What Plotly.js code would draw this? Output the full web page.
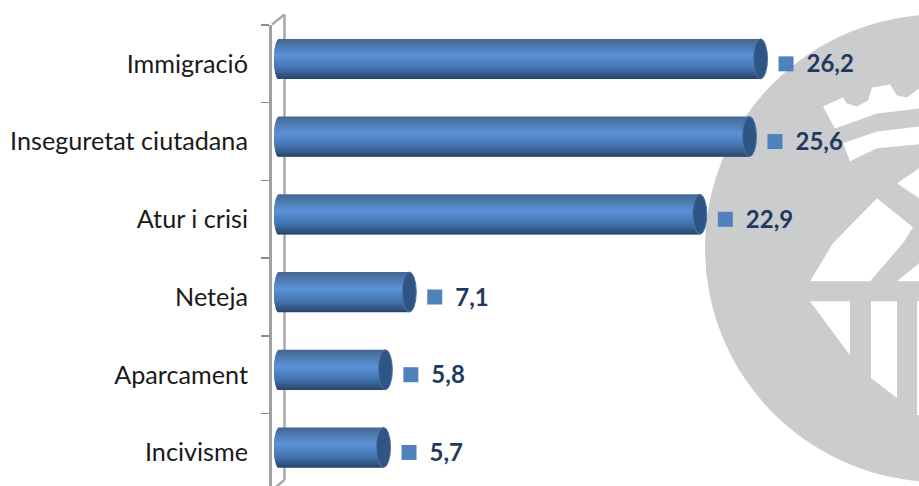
<!DOCTYPE html>
<html><head><meta charset="utf-8">
<script src="https://cdn.plot.ly/plotly-3.0.1.min.js"></script>
<style>html,body{margin:0;padding:0;background:#fff}#c{width:919px;height:486px}</style>
</head><body><div id="c"></div>
<script>
const categories = ["Immigració","Inseguretat ciutadana","Atur i crisi","Neteja","Aparcament","Incivisme"];
const values = [26.2,25.6,22.9,7.1,5.8,5.7];
const valueLabels = ["26,2","25,6","22,9","7,1","5,8","5,7"];

const W=919,H=486,L=272,T=24.5;
const pxPerUnit=18.39, zeroPx=278.7, pxPerCat=77.8;
const xRange=[(L-zeroPx)/pxPerUnit,(W-zeroPx)/pxPerUnit];
const yRange=[-0.5+(H-T)/pxPerCat,-0.5];
const barPx=40, bands=40, leftPx=274, rx=7, leftRx=5, lift=5;
const stops=[[0,[70,103,143]],[0.08,[72,112,160]],[0.42,[91,146,214]],[0.72,[68,118,178]],[0.9,[52,88,134]],[1,[40,68,106]]];
function col(t){for(let i=1;i<stops.length;i++){if(t<=stops[i][0]){const a=stops[i-1],b=stops[i],f=(t-a[0])/(b[0]-a[0]);
  return 'rgb('+a[1].map((v,k)=>Math.round(v+(b[1][k]-v)*f)).join(',')+')';}}return 'rgb(40,68,106)';}

const traces=[];
const bandH=barPx/bands/pxPerCat;
for(let b=0;b<bands;b++){
  const t=(b+0.5)/bands, u=2*t-1;
  const sag=leftRx*(1-Math.sqrt(1-u*u))/pxPerUnit;
  const base=(leftPx-zeroPx)/pxPerUnit+sag;
  traces.push({type:'bar',orientation:'h',y:categories,x:values.map(v=>v-base),base:base,
    width:b===bands-1?bandH:bandH*2.2,offset:(-barPx/2-lift)/pxPerCat+b*bandH,
    marker:{color:col(t),line:{width:0}},hoverinfo:'skip',showlegend:false,cliponaxis:false});
}
const sqOff=25.5/pxPerUnit, txtOff=46/pxPerUnit, txtDrop=2.5/pxPerCat;
traces.push({type:'scatter',mode:'markers',yaxis:'y2',x:values.map(v=>v+sqOff),y:categories.map((c,i)=>i),
  marker:{symbol:'square',size:15,color:'#4f81bd',line:{width:0}},hoverinfo:'skip',showlegend:false});
traces.push({type:'scatter',mode:'text',yaxis:'y2',x:values.map(v=>v+txtOff),y:categories.map((c,i)=>i+txtDrop),
  text:valueLabels,textposition:'middle right',textfont:{family:'Lato, sans-serif',size:24,color:'#1f3a60',weight:700},
  hoverinfo:'skip',showlegend:false,cliponaxis:false});

const px=x=>(x-L)/(W-L), py=y=>1-(y-T)/(H-T);
function poly(pts,fill){return {type:'path',xref:'paper',yref:'paper',layer:'below',fillcolor:fill,line:{width:0},
  path:pts.map((p,i)=>(i?'L':'M')+px(p[0]).toFixed(5)+','+py(p[1]).toFixed(5)).join(' ')+' Z'};}
const logoGray='#cbcccd';
const shapes=[
 {type:'circle',xref:'paper',yref:'paper',layer:'below',fillcolor:logoGray,line:{width:0},x0:px(939-234),x1:px(939+234),y0:py(248+234),y1:py(248-234)},
 poly([[823,106],[843,97],[847,103],[857,106],[868,100],[872,87],[890,84],[897,95],[907,97],[919,88],[919,108],[877,113],[835,128]],'#fff'),
 poly([[843,143],[877,131],[919,126],[919,144],[877,148],[850,161]],'#fff'),
 poly([[897,183],[919,168],[919,198]],'#fff'),
 poly([[877,198],[913,227],[903,243],[870,281],[810,281],[833,243]],'#fff'),
 poly([[897,281],[919,281],[919,263]],'#fff'),
 poly([[810,301],[850,301],[850,355]],'#fff'),
 poly([[871,301],[897,301],[897,398],[871,378]],'#fff'),
 poly([[917,301],[919,301],[919,415],[917,415]],'#fff'),
 {type:'line',xref:'paper',yref:'paper',layer:'below',x0:px(284.5),x1:px(284.5),y0:py(14),y1:py(480),line:{color:'#a9a9a9',width:2.5}},
 {type:'line',xref:'paper',yref:'paper',layer:'below',x0:px(272),x1:px(284.5),y0:py(24),y1:py(14),line:{color:'#a9a9a9',width:2.5}},
 {type:'line',xref:'paper',yref:'paper',layer:'below',x0:px(272),x1:px(284.5),y0:py(490),y1:py(480),line:{color:'#a9a9a9',width:2.5}}
];
categories.forEach((c,i)=>{
  shapes.push({type:'circle',layer:'above',xref:'x',yref:'y',xsizemode:'pixel',ysizemode:'pixel',
    xanchor:values[i],yanchor:c,x0:-rx,x1:rx,y0:-barPx/2+lift,y1:barPx/2+lift,fillcolor:'#2f5585',line:{color:'#4a75a6',width:1}});
});
const layout={width:W,height:H,margin:{l:L,r:0,t:T,b:0},paper_bgcolor:'#fff',plot_bgcolor:'rgba(0,0,0,0)',barmode:'overlay',showlegend:false,
  xaxis:{range:xRange,visible:false,fixedrange:true},
  yaxis:{type:'category',categoryorder:'array',categoryarray:categories,range:yRange,fixedrange:true,autorange:false,tickson:'boundaries',
    showline:true,linecolor:'#a0a0a0',linewidth:3,ticks:'outside',ticklen:8,tickwidth:1.5,tickcolor:'#8c8c8c',showgrid:false,zeroline:false,
    ticklabelstandoff:16,tickfont:{family:'Lato, sans-serif',size:25.2,color:'#1a1a1a'}},
  yaxis2:{overlaying:'y',range:yRange,visible:false,fixedrange:true},
  shapes:shapes};
Plotly.newPlot('c',traces,layout,{staticPlot:true,displayModeBar:false});
</script></body></html>
